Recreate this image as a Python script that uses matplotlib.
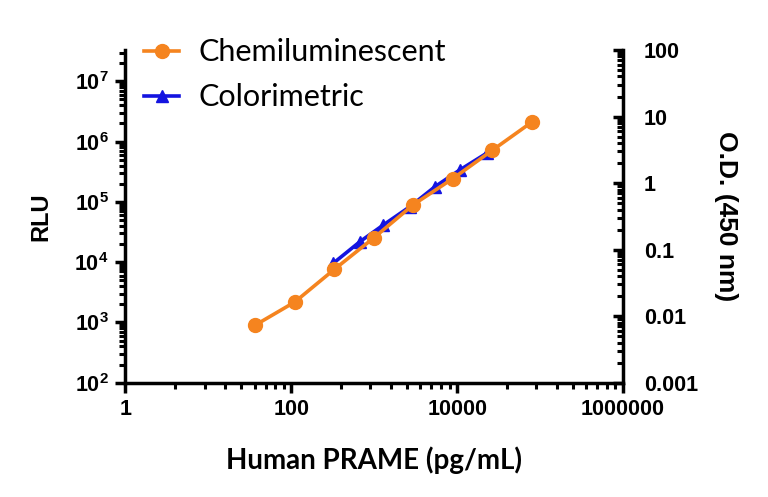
import numpy as np
import matplotlib
matplotlib.use("Agg")
import matplotlib.pyplot as plt
from matplotlib.ticker import FixedLocator, FixedFormatter, LogLocator, NullFormatter

# Data
chem_conc = [36.6, 110, 329, 988, 2963, 8889, 26667, 80000]
chem_rlu = [900, 2180, 7570, 25300, 89900, 244000, 721000, 2120000]
col_conc = [321, 674, 1290, 2700, 5420, 10800, 22800]
col_od = [0.0625, 0.132, 0.235, 0.443, 0.885, 1.58, 2.82]

x_major = [1, 100, 10000, 1000000]
x_major_labels = ["1", "100", "10000", "1000000"]
yl_major = [1e2, 1e3, 1e4, 1e5, 1e6, 1e7]
yl_labels = [r"$\mathbf{10^{%d}}$" % e for e in range(2, 8)]
yr_major = [0.001, 0.01, 0.1, 1, 10, 100]
yr_labels = ["0.001", "0.01", "0.1", "1", "10", "100"]

orange = "#F5841F"
blue = "#1414E0"

plt.rcParams['font.family'] = ['Liberation Sans', 'DejaVu Sans']
plt.rcParams['mathtext.fontset'] = 'custom'
plt.rcParams['mathtext.bf'] = 'Liberation Sans:bold'
plt.rcParams['mathtext.rm'] = 'Liberation Sans'

fig = plt.figure(figsize=(7.68, 4.97), dpi=100)
ax = fig.add_axes([0.1634, 0.23, 0.8112 - 0.1634, 0.8994 - 0.23])
ax2 = ax.twinx()

ax.set_xscale('log')
ax.set_yscale('log')
ax2.set_yscale('log')
ax.set_xlim(1, 1e6)
ax.set_ylim(1e2, 10 ** 7.52)
ax2.set_ylim(1e-3, 1e2)

l2, = ax2.plot(col_conc, col_od, color=blue, lw=2.6, marker='^', ms=8.5, label='Colorimetric', clip_on=False)
l1, = ax.plot(chem_conc, chem_rlu, color=orange, lw=2.6, marker='o', ms=10, label='Chemiluminescent', clip_on=False)

ax.set_zorder(ax2.get_zorder() + 1)
ax.patch.set_visible(False)

for a in (ax, ax2):
    for s in a.spines.values():
        s.set_linewidth(2.5)
    a.spines['top'].set_visible(False)
ax.spines['right'].set_visible(False)
ax2.spines['left'].set_visible(False)
ax2.spines['bottom'].set_visible(False)

# x ticks
ax.xaxis.set_major_locator(FixedLocator(x_major))
ax.xaxis.set_major_formatter(FixedFormatter(x_major_labels))
xminor = [k * k * 100.0 ** n for n in range(3) for k in range(2, 10)]
ax.xaxis.set_minor_locator(FixedLocator(xminor))
ax.xaxis.set_minor_formatter(NullFormatter())

ax.yaxis.set_major_locator(FixedLocator(yl_major))
ax.yaxis.set_major_formatter(FixedFormatter(yl_labels))
ax.yaxis.set_minor_locator(LogLocator(base=10, subs=np.arange(2, 10), numticks=20))
ax.yaxis.set_minor_formatter(NullFormatter())

ax2.yaxis.set_major_locator(FixedLocator(yr_major))
ax2.yaxis.set_major_formatter(FixedFormatter(yr_labels))
ax2.yaxis.set_minor_locator(LogLocator(base=10, subs=np.arange(2, 10), numticks=20))
ax2.yaxis.set_minor_formatter(NullFormatter())

ax.tick_params(axis='both', which='major', direction='out', length=7, width=2.5, labelsize=15.5, pad=5)
ax.tick_params(axis='both', which='minor', direction='out', length=4.5, width=2.2)
ax2.tick_params(axis='y', which='major', direction='in', length=7, width=2.5, labelsize=15.5, pad=15)
ax2.tick_params(axis='y', which='minor', direction='in', length=4.5, width=2.2)
for lab in ax.get_xticklabels() + ax2.get_yticklabels():
    lab.set_fontweight('bold')

ax.set_xlabel("Human PRAME (pg/mL)", fontsize=20, fontweight='bold', family=['Lato', 'DejaVu Sans'], labelpad=19)
ax.set_ylabel("RLU", fontsize=17, fontweight='bold', labelpad=16)
ax2.set_ylabel("O.D. (450 nm)", fontsize=19, fontweight='bold', rotation=-90, labelpad=29)

leg = ax.legend(handles=[l1, l2], loc='upper left', bbox_to_anchor=(0.152, 0.978),
                bbox_transform=fig.transFigure, frameon=False,
                handlelength=1.15, handletextpad=0.62, labelspacing=0.55,
                prop={'family': ['Lato', 'DejaVu Sans'], 'size': 22})

fig.savefig("out.png", dpi=100)
